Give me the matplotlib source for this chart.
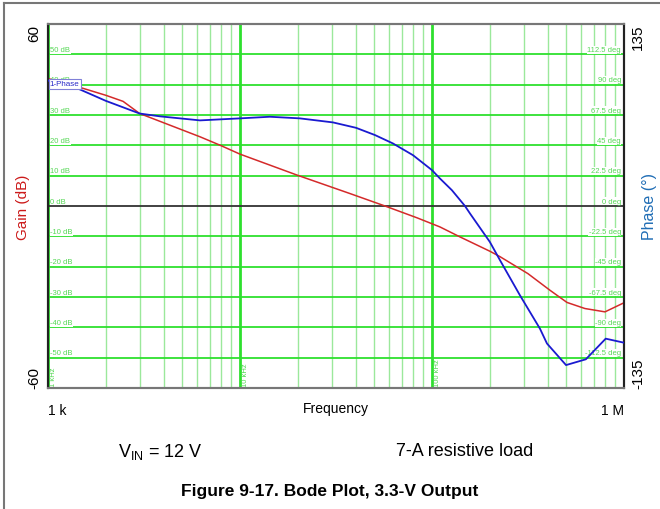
import numpy as np
import matplotlib
matplotlib.use("Agg")
import matplotlib.pyplot as plt
from matplotlib.lines import Line2D

plt.rcParams['font.family'] = ['Liberation Sans', 'DejaVu Sans']

# Data ======================================================================= #
gain_freq = [1000, 1350, 2000, 2460, 3000, 6200, 7900, 10000, 19800, 37400,
             56900, 83600, 110000, 140000, 200000, 226000, 316000, 412000,
             505000, 626000, 796000, 1000000]
gain_db = [42, 39.8, 36.5, 34.5, 30.5, 22.8, 20, 17.1, 10.2, 4.1,
           0, -3.9, -6.9, -10.2, -14.9, -16.7, -22.3, -27.8,
           -31.8, -33.8, -34.9, -31.9]

phase_freq = [1000, 1350, 2000, 3000, 3830, 6190, 10000, 14300, 20500, 30500,
              40200, 50500, 62600, 79600, 100000, 110000, 127000, 148500,
              157800, 200000, 226000, 287000, 365000, 397000, 499000,
              633000, 803000, 1000000]
phase_deg = [93, 88.7, 78, 68.6, 66.5, 63.5, 65, 66.2, 65, 62,
             58, 52.6, 46.4, 37.7, 26.6, 20.4, 11.7, 0,
             -5.6, -26.6, -40.2, -66.2, -91, -102, -118,
             -113.7, -98.4, -101.4]

gain_grid = [-50, -40, -30, -20, -10, 0, 10, 20, 30, 40, 50]
gain_grid_labels = ['-50 dB', '-40 dB', '-30 dB', '-20 dB', '-10 dB', '0 dB',
                    '10 dB', '20 dB', '30 dB', '40 dB', '50 dB']
phase_grid_labels = ['-112.5 deg', '-90 deg', '-67.5 deg', '-45 deg', '-22.5 deg',
                     '0 deg', '22.5 deg', '45 deg', '67.5 deg', '90 deg', '112.5 deg']
decades = [1000, 10000, 100000]
decade_labels = ['1 kHz', '10 kHz', '100 kHz']

# Figure ===================================================================== #
fig = plt.figure(figsize=(6.6, 5.1), dpi=100)
ax = fig.add_axes([48 / 660, 1 - 389 / 510, 576 / 660, 364 / 510])
ax.set_xscale('log')
ax.set_xlim(1e3, 1e6)
ax.set_ylim(-60, 60)

# grid ---------------------------------------------------------------------- #
for d in decades:
    for m in range(2, 10):
        ax.axvline(d * m, color='#9be89b', lw=1.0, zorder=1)
    ax.axvline(d, color='#2ee02e', lw=2.0, zorder=1.5)
for g in gain_grid:
    if g == 0:
        ax.axhline(g, color='#333333', lw=1.3, zorder=1.6)
    else:
        ax.axhline(g, color='#2ee02e', lw=1.3, zorder=1.6)

lab_box = dict(facecolor='white', edgecolor='none', pad=0.3)
for g, gl, pl in zip(gain_grid, gain_grid_labels, phase_grid_labels):
    ax.text(1.03e3, g + 0.4, gl, fontsize=5.5, color='#55d855', ha='left',
            va='bottom', bbox=lab_box, zorder=2)
    ax.text(0.965e6, g + 0.4, pl, fontsize=5.5, color='#55d855', ha='right',
            va='bottom', bbox=lab_box, zorder=2)
for d, dl in zip(decades, decade_labels):
    ax.text(d * 1.03, -59.5, dl, fontsize=5.5, color='#55d855', rotation=90,
            ha='left', va='bottom', zorder=2)

# curves -------------------------------------------------------------------- #
ax.plot(gain_freq, gain_db, color='#d42a2a', lw=1.1, zorder=3)

ax2 = ax.twinx()
ax2.set_ylim(-135, 135)
ax2.plot(phase_freq, phase_deg, color='#1a1ad0', lw=1.3, zorder=3)

ax2.text(1.02e3, 90.5, '1-Phase', fontsize=5.8, color='#2a2ac8', ha='left',
         va='center', zorder=4,
         bbox=dict(facecolor='white', edgecolor='#8080d8', pad=0.8, lw=0.8))

# ticks and labels ---------------------------------------------------------- #
ax.set_xticks([1e3, 1e6])
ax.set_xticklabels(['1 k', '1 M'], fontsize=10)
ax.xaxis.set_minor_locator(plt.NullLocator())
ax.tick_params(axis='x', length=0, pad=11)
xl = ax.get_xticklabels()
xl[0].set_ha('left')
xl[1].set_ha('right')

ax.set_yticks([-60, 60])
ax.set_yticklabels(['-60', '60'], fontsize=11, rotation=90)
ax.tick_params(axis='y', length=0, pad=5)
yl = ax.get_yticklabels()
yl[0].set_va('bottom')
yl[1].set_va('top')

ax2.set_yticks([-135, 135])
ax2.set_yticklabels(['-135', '135'], fontsize=11, rotation=90)
ax2.tick_params(axis='y', length=0, pad=5)
yr = ax2.get_yticklabels()
yr[0].set_va('bottom')
yr[1].set_va('top')

ax.set_ylabel('Gain (dB)', fontsize=11, color='#cc1a1a', labelpad=-2)
ax2.set_ylabel('Phase (°)', fontsize=11.5, color='#1f6db5', labelpad=-2)
ax.text(0.5, -0.056, 'Frequency', transform=ax.transAxes, fontsize=10,
        ha='center', va='center')

for a in (ax, ax2):
    a.spines['left'].set_color('#222222')
    a.spines['right'].set_color('#222222')
    a.spines['top'].set_color('#777777')
    a.spines['bottom'].set_color('#777777')
    for s in a.spines.values():
        s.set_linewidth(1.5)

# captions ------------------------------------------------------------------ #
fig.text(160 / 660, 1 - 452 / 510, r'V$_{\mathregular{IN}}$ = 12 V', fontsize=13,
         ha='center', va='center')
fig.text(465 / 660, 1 - 452 / 510, '7-A resistive load', fontsize=13,
         ha='center', va='center')
fig.text(330 / 660, 1 - 492 / 510, 'Figure 9-17. Bode Plot, 3.3-V Output',
         fontsize=12.5, fontweight='bold', ha='center', va='center')

# outer frame (top and left edges) ------------------------------------------ #
fig.add_artist(Line2D([4 / 660, 4 / 660], [0, 1 - 4 / 510], color='#777777', lw=1.5,
                      transform=fig.transFigure))
fig.add_artist(Line2D([4 / 660, 1], [1 - 4 / 510, 1 - 4 / 510], color='#777777', lw=1.5,
                      transform=fig.transFigure))

fig.savefig('out.png', dpi=100)
